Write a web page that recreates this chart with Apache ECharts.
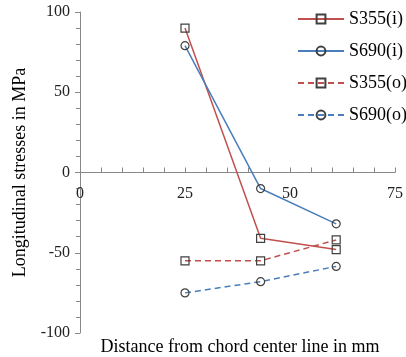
<!DOCTYPE html>
<html><head><meta charset="utf-8">
<script src="https://cdn.jsdelivr.net/npm/echarts@6/dist/echarts.min.js"></script>
<style>html,body{margin:0;padding:0;background:#fff}#c{width:406px;height:357px}</style>
</head><body><div id="c"></div>
<script>
const xValues = [25, 43, 61];
const s355i = [90, -41, -48];
const s690i = [79, -10, -32];
const s355o = [-55, -55, -42];
const s690o = [-75, -68, -58.5];
const seriesNames = ['S355(i)', 'S690(i)', 'S355(o)', 'S690(o)'];
const xTicks = [0, 25, 50, 75];
const yTicks = [-100, -50, 0, 50, 100];

const RED = '#C0504D', BLUE = '#4A7EBB';
const FONT = 'Liberation Serif';
function pts(v){ return xValues.map((x,i)=>[x, v[i]]); }
function mk(name, data, color, symbol, dashed){
  return {
    name, type:'line', data: pts(data), symbol, symbolSize: 8,
    lineStyle:{color, width:1.5, type: dashed ? [6,4] : 'solid'},
    itemStyle:{color:'rgba(255,255,255,0)', borderColor:'#404040', borderWidth:1.2},
    emphasis:{disabled:true}, animation:false, z: 3
  };
}
const chart = echarts.init(document.getElementById('c'));
chart.setOption({
  animation:false,
  grid:{left:80, right:8, top:12, bottom:24},
  legend:{
    orient:'vertical', left:292, top:5, itemWidth:46, itemHeight:11, itemGap:14,
    textStyle:{fontFamily:FONT, fontSize:18, color:'#000'},
    data: seriesNames
  },
  xAxis:{
    type:'value', min:0, max:75, interval:25, position:'bottom', offset:-160.5,
    axisLine:{show:true, onZero:false, lineStyle:{color:'#888'}},
    axisTick:{show:true, inside:true, length:5, lineStyle:{color:'#888'}},
    minorTick:{show:true, splitNumber:5, length:5, lineStyle:{color:'#888'}},
    splitLine:{show:false},
    axisLabel:{fontFamily:FONT, fontSize:16, color:'#222', margin:13,
      customValues: xTicks, formatter: v => String(v)}
  },
  yAxis:{
    type:'value', min:-100, max:100, interval:50,
    name:'Longitudinal stresses in MPa', nameLocation:'middle', nameGap:51,
    nameTextStyle:{fontFamily:FONT, fontSize:18, color:'#000'},
    axisLine:{show:true, lineStyle:{color:'#888'}},
    axisTick:{show:true, length:5, lineStyle:{color:'#888'}},
    minorTick:{show:true, splitNumber:5, length:4, lineStyle:{color:'#888'}},
    splitLine:{show:false},
    axisLabel:{fontFamily:FONT, fontSize:16, color:'#222', margin:10,
      customValues: yTicks, formatter: v => String(v)}
  },
  graphic:[{type:'text', x:240, y:338,
    style:{text:'Distance from chord center line in mm', fontFamily:FONT, fontSize:18, fill:'#000', align:'center'}}],
  series:[
    mk(seriesNames[0], s355i, RED, 'rect', false),
    mk(seriesNames[1], s690i, BLUE, 'circle', false),
    mk(seriesNames[2], s355o, RED, 'rect', true),
    mk(seriesNames[3], s690o, BLUE, 'circle', true)
  ]
});
</script></body></html>
